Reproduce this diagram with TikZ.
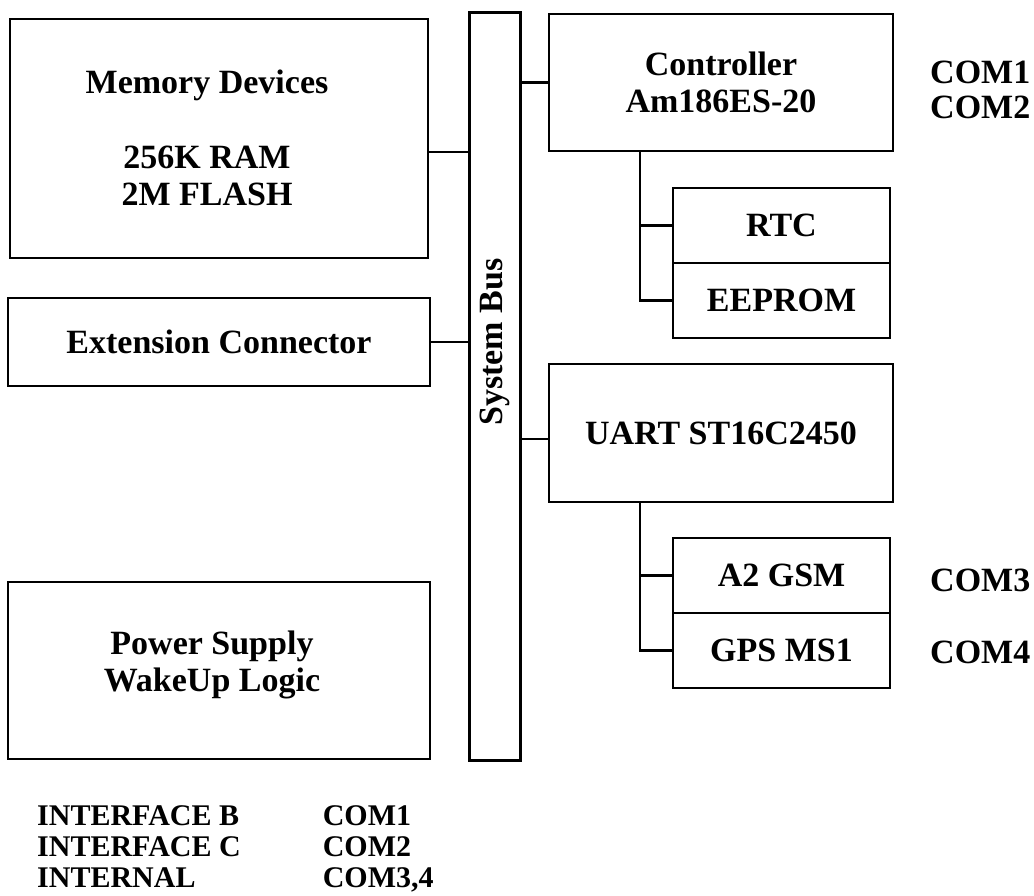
\documentclass[tikz,border=0pt]{standalone}
\usepackage{fontspec}
\setmainfont{Liberation Serif}
\usetikzlibrary{positioning, matrix}

\tikzset{
  blk/.style={draw, line width=2.8pt, inner sep=0pt, outer sep=0pt, align=center, font=\bfseries\fontsize{34}{37}\selectfont},
  txt/.style={inner sep=0pt, align=center, font=\bfseries\fontsize{34}{37}\selectfont},
  wire/.style={line width=2.5pt},
}

\begin{document}
\begin{tikzpicture}[x=1pt, y=-1pt]
      \useasboundingbox (0,0) rectangle (1034,896);
      % left column
      \node[blk, minimum width=418pt, minimum height=239pt] (mem) at (219,138.5) {};
      \node[txt] (memtxt) at (207,137.5) {Memory Devices\\[38pt]256K RAM\\2M FLASH};
      \node[blk, minimum width=422pt, minimum height=88pt] (ext) at (219,342) {Extension Connector};
      \node[blk, minimum width=422pt, minimum height=177pt] (pwr) at (219,670.5) {};
      \node[txt] (pwrtxt) at (212,665) {Power Supply\\WakeUp Logic};
      % bus
      \node[draw, line width=3pt, outer sep=0pt, minimum width=51pt, minimum height=747pt] (bus) at (495,386.5) {};
      \node[txt, rotate=90] (bustxt) at (495,342) {System Bus};
      % right column
      \node[blk, minimum width=344pt, minimum height=137pt] (ctrl) at (721,82.5) {Controller\\Am186ES-20};
      \node[blk, minimum width=217pt, minimum height=75pt] (rtc) at (781.5,225.5) {RTC};
      \node[blk, minimum width=217pt, minimum height=75pt, below=0pt of rtc] (eep) {EEPROM};
      \node[blk, minimum width=344pt, minimum height=138pt] (uart) at (721,433) {UART ST16C2450};
      \node[blk, minimum width=217pt, minimum height=75pt] (gsm) at (781.5,575.5) {A2 GSM};
      \node[blk, minimum width=217pt, minimum height=75pt, below=0pt of gsm] (gps) {GPS MS1};
      \node[txt, anchor=west] (com1) at (930,72) {COM1};
      \node[txt, anchor=west] (com2) at (930,107) {COM2};
      \node[txt, anchor=west] (com3) at (930,580) {COM3};
      \node[txt, anchor=west] (com4) at (930,652) {COM4};
      % connections
      \draw[wire] ([yshift=-13.5pt]mem.east) coordinate (m1) -- (m1 -| bus.west);
      \draw[wire] (ext.east) -- (ext.east -| bus.west);
      \draw[wire] (ctrl.west) -- (ctrl.west -| bus.east);
      \draw[wire] ([yshift=-6pt]uart.west) coordinate (u1) -- (u1 -| bus.east);
      \draw[wire] ([xshift=91pt]ctrl.south west) coordinate (s1) |- (rtc.west);
      \draw[wire] (s1) |- (eep.west);
      \draw[wire] ([xshift=91pt]uart.south west) coordinate (s2) |- (gsm.west);
      \draw[wire] (s2) |- (gps.west);
      % legend
      \matrix [matrix of nodes, anchor=north west, inner sep=0pt, column sep=82pt, row sep=11pt,
               nodes={anchor=base west, inner sep=0pt, text height=20pt, text depth=0pt, font=\bfseries\fontsize{30}{33}\selectfont}] (legend) at (37,805)
      {
          INTERFACE B & COM1 \\
          INTERFACE C & COM2 \\
          INTERNAL & COM3,4 \\
      };
\end{tikzpicture}
\end{document}
